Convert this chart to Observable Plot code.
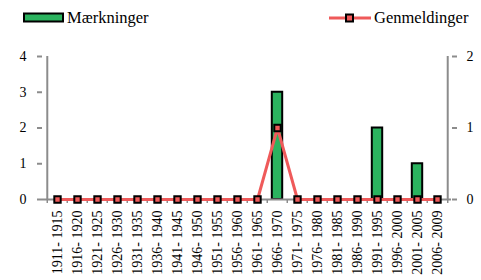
<!DOCTYPE html>
<html><head><meta charset="utf-8">
<script src="https://cdn.jsdelivr.net/npm/d3@7"></script>
<script src="https://cdn.jsdelivr.net/npm/@observablehq/plot@0.6"></script>
<style>
html body *, html body svg text, html body div span {font-family:'Liberation Serif',serif !important;}
</style>
</head>
<body style="margin:0;background:#fff;">
<div id="wrap" style="position:relative;width:481px;height:280px;"></div>
<script>
const categories = ["1911-1915","1916-1920","1921-1925","1926-1930","1931-1935","1936-1940","1941-1945","1946-1950","1951-1955","1956-1960","1961-1965","1966-1970","1971-1975","1976-1980","1981-1985","1986-1990","1991-1995","1996-2000","2001-2005","2006-2009"];
const maerkninger = [0,0,0,0,0,0,0,0,0,0,0,3,0,0,0,0,2,0,1,0];
const genmeldinger = [0,0,0,0,0,0,0,0,0,0,0,1,0,0,0,0,0,0,0,0];
const leftTicks = [0,1,2,3,4];
const rightTicks = [0,1,2];

const green = "#2bb35f", red = "#ef5a5a", gray = "#8c8c8c";
const serif = "'Liberation Serif', serif";
const rows = categories.map((c,i)=>({cat:c, m:maerkninger[i], g:genmeldinger[i]}));
const scaleR = 2; // right axis 0..2 maps onto left 0..4
const bw = (451-42)/categories.length;

const chart = Plot.plot({
  width:481, height:280,
  marginLeft:42, marginRight:30, marginTop:56, marginBottom:81,
  x:{domain:categories, padding:0, axis:null},
  y:{domain:[0,4], axis:null},
  style:{fontFamily:serif, fontSize:"14px", background:"transparent", color:"#000"},
  marks:[
    Plot.barY(rows,{x:"cat", y:"m", fill:green, stroke:"#000", strokeWidth:2, insetLeft:4.8, insetRight:4.8}),
    Plot.ruleY([0],{stroke:gray, strokeWidth:2}),
    Plot.axisX({ticks:categories, tickSize:4, text:null, label:null, stroke:gray, strokeWidth:1.5, dx:-bw/2}),
    Plot.axisX({ticks:[categories[categories.length-1]], tickSize:4, text:null, label:null, stroke:gray, strokeWidth:1.5, dx:bw/2}),
    Plot.ruleX([categories[0]],{y1:0, y2:4, dx:-bw/2, stroke:gray, strokeWidth:2}),
    Plot.ruleX([categories[categories.length-1]],{y1:0, y2:4, dx:bw/2, stroke:gray, strokeWidth:2}),
    Plot.axisY({anchor:"left", ticks:leftTicks, tickFormat:d=>String(d), label:null, tickSize:5, tickPadding:11, stroke:gray, strokeWidth:2, fill:"#000", fontSize:14}),
    Plot.axisY({anchor:"right", ticks:rightTicks.map(d=>d*scaleR), tickFormat:d=>String(d/scaleR), label:null, tickSize:5, tickPadding:10, stroke:gray, strokeWidth:2, fill:"#000", fontSize:14}),
    Plot.text(categories,{x:d=>d, y:0, text:d=>d.replace("-","- "), rotate:-90, textAnchor:"end", dy:11, fill:"#000", fontSize:14}),
    Plot.lineY(rows,{x:"cat", y:d=>d.g*scaleR, stroke:red, strokeWidth:3}),
    Plot.dot(rows,{x:"cat", y:d=>d.g*scaleR, symbol:"square", r:3.6, fill:red, stroke:"#000", strokeWidth:2})
  ]
});
const wrap = document.getElementById("wrap");
wrap.appendChild(chart);
chart.style.position="absolute"; chart.style.left="0"; chart.style.top="0";
d3.select(chart).selectAll("text").attr("font-family", serif);

function legend(left, swatch, label, gap){
  const d = document.createElement("div");
  d.setAttribute("style", `position:absolute;top:8px;left:${left}px;display:flex;align-items:center;font-size:16.5px;line-height:20px;color:#000`);
  d.innerHTML = swatch + `<span style="margin-left:${gap}px">${label}</span>`;
  wrap.appendChild(d);
}
legend(23, `<svg width="42" height="12"><rect x="1" y="1.5" width="39" height="8" fill="${green}" stroke="#000" stroke-width="2"/></svg>`, "Mærkninger", 2);
legend(329, `<svg width="42" height="12"><line x1="0" x2="42" y1="6" y2="6" stroke="${red}" stroke-width="3"/><rect x="17" y="2.5" width="7" height="7" fill="${red}" stroke="#000" stroke-width="2"/></svg>`, "Genmeldinger", 3);
</script></body></html>
